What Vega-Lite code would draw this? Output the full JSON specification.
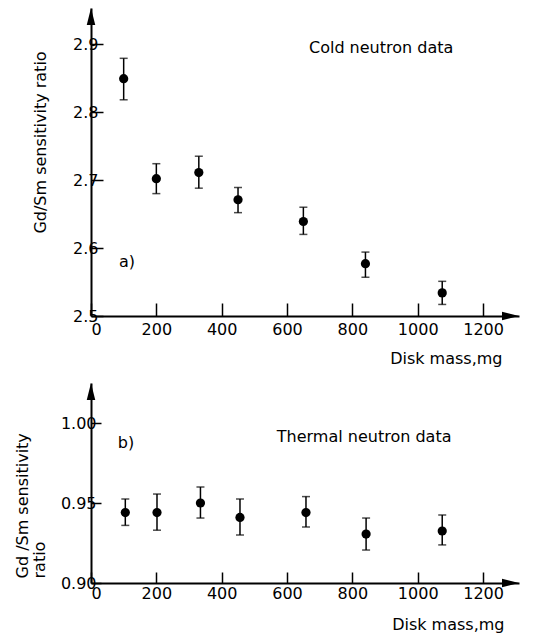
{
  "$schema": "https://vega.github.io/schema/vega-lite/v6.json",
  "background": "white",
  "padding": {"top": 8, "left": 14, "right": 5, "bottom": 5},
  "spacing": 17,
  "config": {
    "view": {"stroke": null},
    "font": "DejaVu Sans",
    "axis": {
      "grid": false,
      "domainColor": "black",
      "domainWidth": 2,
      "tickColor": "black",
      "tickWidth": 1.5,
      "labelColor": "black",
      "labelFont": "DejaVu Sans",
      "labelFontSize": 16,
      "titleColor": "black",
      "titleFont": "DejaVu Sans",
      "titleFontSize": 16,
      "titleFontWeight": "normal"
    }
  },
  "datasets": {
    "cold": [
      {"mass": 100, "ratio": 2.849, "lo": 2.818, "hi": 2.879},
      {"mass": 200, "ratio": 2.702, "lo": 2.680, "hi": 2.724},
      {"mass": 330, "ratio": 2.711, "lo": 2.688, "hi": 2.735},
      {"mass": 450, "ratio": 2.671, "lo": 2.652, "hi": 2.689},
      {"mass": 650, "ratio": 2.639, "lo": 2.620, "hi": 2.660},
      {"mass": 840, "ratio": 2.577, "lo": 2.557, "hi": 2.594},
      {"mass": 1075, "ratio": 2.534, "lo": 2.517, "hi": 2.551}
    ],
    "thermal": [
      {"mass": 105, "ratio": 0.944, "lo": 0.936, "hi": 0.9525},
      {"mass": 202, "ratio": 0.944, "lo": 0.933, "hi": 0.9556},
      {"mass": 335, "ratio": 0.950, "lo": 0.9406, "hi": 0.960},
      {"mass": 456, "ratio": 0.941, "lo": 0.930, "hi": 0.9525},
      {"mass": 658, "ratio": 0.944, "lo": 0.935, "hi": 0.954},
      {"mass": 842, "ratio": 0.9306, "lo": 0.9206, "hi": 0.9406},
      {"mass": 1075, "ratio": 0.9325, "lo": 0.9238, "hi": 0.9425}
    ],
    "notes": [
      {"panel": "a", "label": "a)", "mass": 110, "ratio": 2.579},
      {"panel": "a", "label": "Cold neutron data", "mass": 888, "ratio": 2.894},
      {"panel": "b", "label": "b)", "mass": 107, "ratio": 0.9875},
      {"panel": "b", "label": "Thermal neutron data", "mass": 836, "ratio": 0.991}
    ]
  },
  "vconcat": [
    {
      "width": 428,
      "height": 308,
      "encoding": {
        "x": {"field": "mass", "type": "quantitative",
          "scale": {"domain": [0, 1310], "nice": false, "zero": false},
          "axis": {"values": [0, 200, 400, 600, 800, 1000, 1200], "format": "d", "title": "Disk mass,mg",
            "ticks": true, "tickSize": -13, "labelPadding": 4,
            "labelBaseline": "line-top", "labelLineHeight": 44,
            "titleX": 411, "titleY": 47, "titleAlign": "right", "titleBaseline": "alphabetic", "titleAnchor": null}},
        "y": {"field": "ratio", "type": "quantitative",
          "scale": {"domain": [2.5, 2.953], "nice": false, "zero": false},
          "axis": {"values": [2.5, 2.6, 2.7, 2.8, 2.9], "format": ".1f", "title": "Gd/Sm sensitivity ratio",
            "ticks": true, "tickSize": -12, "labelPadding": 5,
            "labelExpr": "datum.label + '\u2007\u2009'",
            "titleX": -51, "titleY": 134, "titleAlign": "center", "titleBaseline": "middle", "titleAngle": -90}}
      },
      "layer": [
        {"data": {"name": "cold"}, "mark": {"type": "rule", "color": "black", "strokeWidth": 1.5},
          "encoding": {"y": {"field": "lo", "type": "quantitative"}, "y2": {"field": "hi"}}},
        {"data": {"name": "cold"}, "mark": {"type": "tick", "orient": "horizontal", "color": "black", "size": 8, "thickness": 1.5},
          "encoding": {"y": {"field": "lo", "type": "quantitative"}}},
        {"data": {"name": "cold"}, "mark": {"type": "tick", "orient": "horizontal", "color": "black", "size": 8, "thickness": 1.5},
          "encoding": {"y": {"field": "hi", "type": "quantitative"}}},
        {"data": {"name": "cold"}, "mark": {"type": "point", "filled": true, "color": "black", "opacity": 1, "size": 85, "shape": "circle"}},
        {"data": {"name": "cold"}, "transform": [{"filter": "datum.mass == 100"}],
          "mark": {"type": "point", "filled": true, "color": "black", "opacity": 1, "size": 289, "shape": "M0,0L-0.5,2L0.5,2Z"},
          "encoding": {"x": {"datum": 0, "type": "quantitative"}, "y": {"datum": 2.953, "type": "quantitative"}}},
        {"data": {"name": "cold"}, "transform": [{"filter": "datum.mass == 100"}],
          "mark": {"type": "point", "filled": true, "color": "black", "opacity": 1, "size": 289, "shape": "M0,0L-2,-0.5L-2,0.5Z"},
          "encoding": {"x": {"datum": 1310, "type": "quantitative"}, "y": {"datum": 2.5, "type": "quantitative"}}},
        {"data": {"name": "notes"}, "transform": [{"filter": "datum.panel == 'a'"}],
          "mark": {"type": "text", "fontSize": 16, "color": "black", "align": "center", "baseline": "middle"},
          "encoding": {"text": {"field": "label"}}}
      ]
    },
    {
      "width": 428,
      "height": 200,
      "encoding": {
        "x": {"field": "mass", "type": "quantitative",
          "scale": {"domain": [0, 1310], "nice": false, "zero": false},
          "axis": {"values": [0, 200, 400, 600, 800, 1000, 1200], "format": "d", "title": "Disk mass,mg",
            "ticks": true, "tickSize": -11, "labelPadding": 4,
            "labelBaseline": "line-top", "labelLineHeight": 34,
            "titleX": 413, "titleY": 46, "titleAlign": "right", "titleBaseline": "alphabetic", "titleAnchor": null}},
        "y": {"field": "ratio", "type": "quantitative",
          "scale": {"domain": [0.9, 1.025], "nice": false, "zero": false},
          "axis": {"values": [0.9, 0.95, 1.0], "format": ".2f", "title": ["Gd /Sm sensitivity", "ratio"],
            "ticks": true, "tickSize": -10, "labelPadding": 5,
            "labelExpr": "datum.label + '\u2007'",
            "titleX": -69, "titleY": 195, "titleAlign": "left", "titleBaseline": "middle", "titleAngle": -90, "titleLineHeight": 17}}
      },
      "layer": [
        {"data": {"name": "thermal"}, "mark": {"type": "rule", "color": "black", "strokeWidth": 1.5},
          "encoding": {"y": {"field": "lo", "type": "quantitative"}, "y2": {"field": "hi"}}},
        {"data": {"name": "thermal"}, "mark": {"type": "tick", "orient": "horizontal", "color": "black", "size": 8, "thickness": 1.5},
          "encoding": {"y": {"field": "lo", "type": "quantitative"}}},
        {"data": {"name": "thermal"}, "mark": {"type": "tick", "orient": "horizontal", "color": "black", "size": 8, "thickness": 1.5},
          "encoding": {"y": {"field": "hi", "type": "quantitative"}}},
        {"data": {"name": "thermal"}, "mark": {"type": "point", "filled": true, "color": "black", "opacity": 1, "size": 85, "shape": "circle"}},
        {"data": {"name": "thermal"}, "transform": [{"filter": "datum.mass == 105"}],
          "mark": {"type": "point", "filled": true, "color": "black", "opacity": 1, "size": 289, "shape": "M0,0L-0.5,2L0.5,2Z"},
          "encoding": {"x": {"datum": 0, "type": "quantitative"}, "y": {"datum": 1.025, "type": "quantitative"}}},
        {"data": {"name": "thermal"}, "transform": [{"filter": "datum.mass == 105"}],
          "mark": {"type": "point", "filled": true, "color": "black", "opacity": 1, "size": 289, "shape": "M0,0L-2,-0.5L-2,0.5Z"},
          "encoding": {"x": {"datum": 1310, "type": "quantitative"}, "y": {"datum": 0.9, "type": "quantitative"}}},
        {"data": {"name": "notes"}, "transform": [{"filter": "datum.panel == 'b'"}],
          "mark": {"type": "text", "fontSize": 16, "color": "black", "align": "center", "baseline": "middle"},
          "encoding": {"text": {"field": "label"}}}
      ]
    }
  ]
}
